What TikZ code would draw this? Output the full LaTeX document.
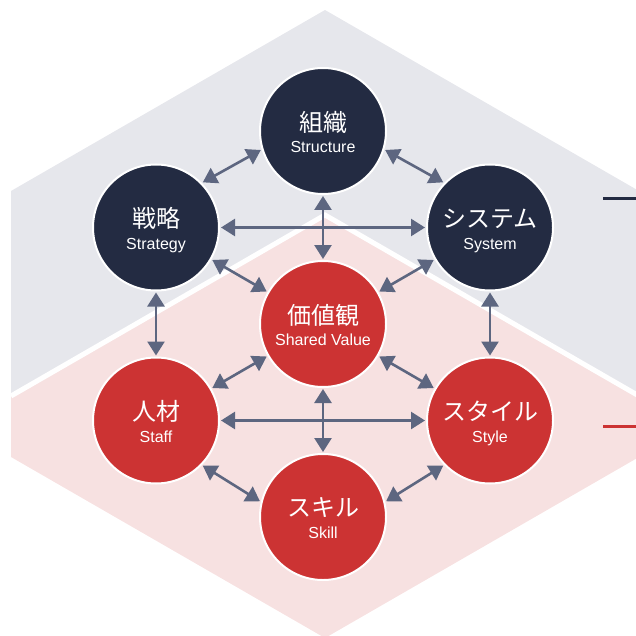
\documentclass[tikz,border=0pt]{standalone}
\usepackage{fontspec}
\setmainfont{Liberation Sans}
\newfontfamily\cjk{Noto Sans CJK JP}
\usetikzlibrary{arrows.meta}
\definecolor{navy}{HTML}{232B42}
\definecolor{redc}{HTML}{CC3333}
\definecolor{greybg}{HTML}{E6E7EC}
\definecolor{pinkbg}{HTML}{F7E1E1}
\definecolor{arrowc}{HTML}{5D6680}
\tikzset{
  ball/.style={circle, minimum size=126pt, inner sep=0pt, outer sep=2pt, draw=white, line width=2pt},
  topball/.style={ball, fill=navy},
  lowball/.style={ball, fill=redc},
  jptext/.style={inner sep=0pt, text=white, font=\cjk\fontsize{24}{26}\selectfont, anchor=center},
  entext/.style={inner sep=0pt, text=white, font=\fontsize{16}{18}\selectfont, anchor=base},
  link/.style={arrowc, line width=2.6pt, {Triangle[length=14pt,width=17pt]}-{Triangle[length=14pt,width=17pt]}},
  marker/.style={line width=3pt}
}
\begin{document}
\begin{tikzpicture}[x=1pt,y=-1pt]
\useasboundingbox (0,0) rectangle (636,636);
\clip (0,0) rectangle (636,636);
% backgrounds
\fill[greybg] (325,10) -- (11,191) -- (11,400) -- (325,582) -- (639,400) -- (639,191) -- cycle;
\fill[pinkbg] (325,215) -- (11,396) -- (11,457) -- (325,638) -- (639,457) -- (639,396) -- cycle;
\draw[white, line width=5pt] (11,396) -- (325,215) -- (639,396);
% side markers
\coordinate (m1a) at (603,199); \coordinate (m1b) at (640,199);
\coordinate (m2a) at (603,426); \coordinate (m2b) at (640,426);
\draw[marker, navy] (m1a) -- (m1b);
\draw[marker, redc] (m2a) -- (m2b);
% nodes
\node[topball] (struc) at (323,131) {};
\node[topball] (strat) at (156,227.5) {};
\node[topball] (sys) at (490,227.5) {};
\node[lowball] (sv) at (323,324) {};
\node[lowball] (staff) at (156,420.5) {};
\node[lowball] (style) at (490,420.5) {};
\node[lowball] (skill) at (323,517) {};
% texts
\foreach \n/\jp/\en in {struc/組織/Structure, strat/戦略/Strategy, sys/システム/System, sv/価値観/Shared Value, staff/人材/Staff, style/スタイル/Style, skill/スキル/Skill}{
  \node[jptext] (\n-jp) at ([yshift=9pt]\n.center) {\jp};
  \node[entext] (\n-en) at ([yshift=-21.5pt]\n.center) {\en};
}
% connectors
\draw[link] (strat.44) -- (struc.197);
\draw[link] (struc.343) -- (sys.136);
\draw[link] (strat.east) -- (sys.west);
\draw[link] (struc.south) -- (sv.north);
\draw[link] (strat.330) -- (sv.150);
\draw[link] (sys.210) -- (sv.30);
\draw[link] (strat.south) -- (staff.north);
\draw[link] (sys.south) -- (style.north);
\draw[link] (sv.210) -- (staff.30);
\draw[link] (sv.330) -- (style.150);
\draw[link] (staff.east) -- (style.west);
\draw[link] (sv.south) -- (skill.north);
\draw[link] (staff.316) -- (skill.166);
\draw[link] (style.224) -- (skill.14);
\end{tikzpicture}
\end{document}
